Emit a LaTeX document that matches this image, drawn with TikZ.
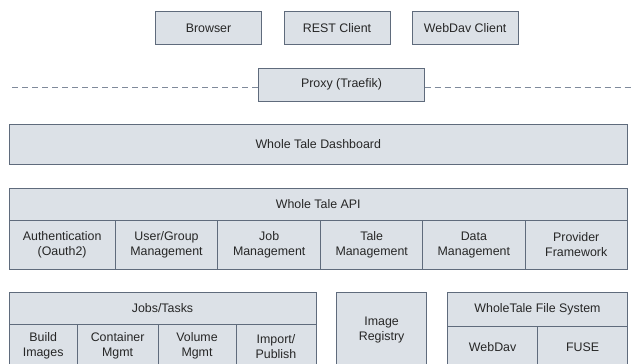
\documentclass[tikz,border=0pt]{standalone}
\usepackage{fontspec}
\setmainfont{Liberation Sans}
\usetikzlibrary{positioning}
\definecolor{boxfill}{HTML}{DCE1E7}
\definecolor{boxline}{HTML}{5F6B7C}
\definecolor{proxyline}{HTML}{7F8A9B}
\newcommand{\archfont}{\fontsize{12.4}{15}\selectfont}
\tikzstyle{layer}=[draw=boxline, fill=boxfill, line width=0.8pt, inner sep=0, outer sep=0,
                   align=center, font=\archfont, text=black!85]
\tikzstyle{client}=[layer, minimum width=106pt, minimum height=32.6pt]
\tikzstyle{apicell}=[layer, minimum height=49pt]
\tikzstyle{taskcell}=[layer, minimum height=43.7pt]
\tikzstyle{fscell}=[layer, minimum height=42pt]
\tikzstyle{boundary}=[draw=proxyline, line width=0.8pt, dash pattern=on 6pt off 4pt]
\begin{document}
\begin{tikzpicture}[x=1pt, y=-1pt]
        \useasboundingbox (0, 0) rectangle (633, 364);
        % Clients
        \node[client] (browser) at (208.5, 28) {Browser};
        \node[client] (rest) at (337, 28) {REST Client};
        \node[client] (webdavclient) at (465.2, 28) {WebDav Client};
        % Proxy and network edge
        \node[layer, minimum width=166.3pt, minimum height=32.7pt] (proxy) at (341.5, 84.7) {Proxy (Traefik)};
        \coordinate (edgeL) at (12, 87);
        \coordinate (edgeR) at (634, 87);
        \draw[boundary] (edgeL) -- (edgeL -| proxy.west);
        \draw[boundary] (proxy.east |- edgeR) -- (edgeR);
        \node[layer, minimum width=618.5pt, minimum height=40.3pt] (dashboard) at (318.25, 144.2) {Whole Tale Dashboard};
        % API
        \node[layer, minimum width=618.5pt, minimum height=32.4pt] (api) at (318.25, 204.1) {Whole Tale API};
        \node[apicell, minimum width=106.3pt] (auth) at (62.15, 244.8) {Authentication\\(Oauth2)};
        \node[apicell, minimum width=102.4pt] (usergroup) at (166.5, 244.8) {User/Group\\Management};
        \node[apicell, minimum width=103pt] (jobmgmt) at (269.2, 244.8) {Job\\Management};
        \node[apicell, minimum width=102pt] (talemgmt) at (371.7, 244.8) {Tale\\Management};
        \node[apicell, minimum width=102.3pt] (datamgmt) at (473.85, 244.8) {Data\\Management};
        \node[apicell, minimum width=102.5pt] (provider) at (576.25, 244.8) {Provider\\Framework};
        % Jobs
        \node[layer, minimum width=307pt, minimum height=32pt] (jobs) at (162.5, 308.3) {Jobs/Tasks};
        \node[taskcell, minimum width=68.3pt] (build) at (43.15, 346.15) {Build\\Images};
        \node[taskcell, minimum width=80.7pt] (container) at (117.65, 346.15) {Container\\Mgmt};
        \node[taskcell, minimum width=78pt] (volume) at (197, 346.15) {Volume\\Mgmt};
        \node[taskcell, minimum width=80pt] (import) at (276, 346.15) {Import/\\Publish};
        % Registry
        \node[layer, minimum width=90.2pt, minimum height=75.7pt] (registry) at (381.6, 330.15) {Image\\Registry};
        % File system
        \node[layer, minimum width=180pt, minimum height=33.7pt] (wtfs) at (537.5, 309.15) {WholeTale File System};
        \node[fscell, minimum width=90.3pt] (webdav) at (492.65, 347) {WebDav};
        \node[fscell, minimum width=89.7pt] (fuse) at (582.65, 347) {FUSE};
\end{tikzpicture}
\end{document}
